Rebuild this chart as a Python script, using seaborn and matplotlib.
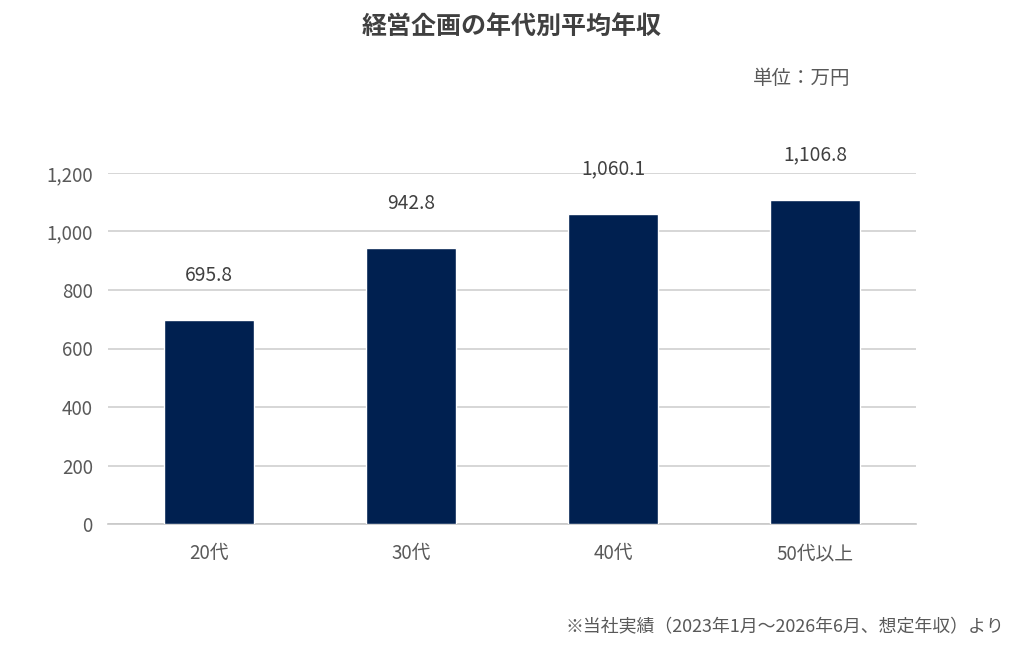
import matplotlib
matplotlib.use("Agg")
import matplotlib.pyplot as plt
import seaborn as sns
import pandas as pd

categories = ["20代", "30代", "40代", "50代以上"]
values = [695.8, 942.8, 1060.1, 1106.8]
yticks = [0, 200, 400, 600, 800, 1000, 1200]

sns.set_theme(style="white")
plt.rcParams['font.family'] = ['Noto Sans CJK JP', 'DejaVu Sans']

df = pd.DataFrame({"age": categories, "income": values})

fig = plt.figure(figsize=(10.24, 6.51), dpi=100)
ax = fig.add_axes([108/1024, 1 - 524/651, 808/1024, (524 - 173)/651])

sns.barplot(data=df, x="age", y="income", color="#002050", width=0.445,
            saturation=1, ax=ax, zorder=3)

ax.set_ylim(0, 1200)
ax.set_xlim(-0.5, len(categories) - 0.5)
ax.set_yticks(yticks)
ax.set_yticklabels([f"{v:,}" for v in yticks])
ax.yaxis.grid(True, color="#d0d0d0", linewidth=1.2, zorder=0)
ax.set_axisbelow(True)
for s in ["top", "right", "left"]:
    ax.spines[s].set_visible(False)
ax.spines["bottom"].set_color("#c8c8c8")
ax.spines["bottom"].set_linewidth(1.2)
ax.tick_params(axis="both", length=0, labelsize=13.5, labelcolor="#595959")
ax.tick_params(axis="y", pad=11)
ax.tick_params(axis="x", pad=14)
ax.set_xlabel("")
ax.set_ylabel("")

for i, v in enumerate(values):
    ax.annotate(f"{v:,.1f}", xy=(i, v), xytext=(0, 25), textcoords="offset points",
                ha="center", va="bottom", fontsize=13.8, color="#404040")

fig.text(512/1024, 1 - 27/651, "経営企画の年代別平均年収", ha="center", va="center",
         fontsize=18, fontweight="bold", color="#404040")
fig.text(850/1024, 1 - 79/651, "単位：万円", ha="right", va="center",
         fontsize=14, color="#595959")
fig.text(1004/1024, 1 - 627/651, "※当社実績（2023年1月～2026年6月、想定年収）より",
         ha="right", va="center", fontsize=12.9, color="#595959")

fig.savefig("out.png", dpi=100, facecolor="white")
